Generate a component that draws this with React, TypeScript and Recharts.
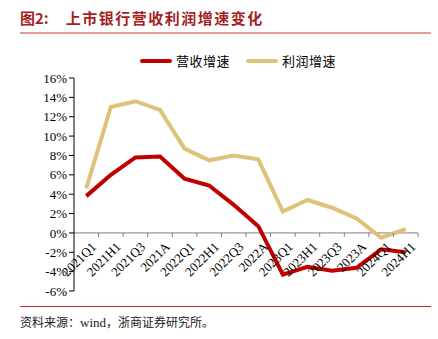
import { LineChart, Line, XAxis, YAxis, ReferenceLine } from "recharts"

const categories = [
  "2021Q1", "2021H1", "2021Q3", "2021A",
  "2022Q1", "2022H1", "2022Q3", "2022A",
  "2023Q1", "2023H1", "2023Q3", "2023A",
  "2024Q1", "2024H1",
]

// 营收增速 (%)
const revenueGrowth = [3.8, 6.0, 7.8, 7.9, 5.6, 4.9, 2.9, 0.7, -4.3, -3.5, -3.9, -3.6, -1.7, -2.0]
// 利润增速 (%)
const profitGrowth = [4.6, 13.0, 13.6, 12.7, 8.7, 7.5, 8.0, 7.6, 2.2, 3.4, 2.6, 1.5, -0.5, 0.4]

const yTicks = [-6, -4, -2, 0, 2, 4, 6, 8, 10, 12, 14, 16]

const seriesNames = ["营收增速", "利润增速"]
const seriesColors = ["#C00000", "#DFC27A"]

const W = 438
const H = 339
const PLOT_TOP = 78
const PLOT_BOTTOM = 291
const PLOT_LEFT = 74
const PLOT_RIGHT = 418
const Y_MIN = -6
const Y_MAX = 16
const ZERO_Y = PLOT_TOP + ((Y_MAX - 0) / (Y_MAX - Y_MIN)) * (PLOT_BOTTOM - PLOT_TOP)
const BAND = (PLOT_RIGHT - PLOT_LEFT) / categories.length

const chartData = categories.map((c, i) => ({
  name: c,
  revenue: revenueGrowth[i],
  profit: profitGrowth[i],
}))

const serif = "'Times New Roman', 'Liberation Serif', serif"
const cjk = "SimSun, 'Noto Sans CJK SC', sans-serif"

function XTick({ x, payload }: { x?: number; payload?: { value: string } }) {
  const cx = x ?? 0
  return (
    <g>
      <line x1={cx + BAND / 2} x2={cx + BAND / 2} y1={ZERO_Y} y2={ZERO_Y + 4} stroke="#808080" />
      <text
        transform={`translate(${cx + 5},${ZERO_Y + 9}) rotate(-45)`}
        textAnchor="end"
        dy={8}
        fontFamily={serif}
        fontSize={13}
        fill="#000"
      >
        {payload?.value}
      </text>
    </g>
  )
}

export default function App() {
  return (
    <div style={{ position: "absolute", left: 0, top: 0, width: W, height: H, background: "#fff", overflow: "hidden" }}>
      {/* title */}
      <div
        style={{
          position: "absolute",
          left: 20,
          top: 7,
          fontFamily: cjk,
          fontWeight: 700,
          fontSize: 15,
          color: "#A51F24",
          whiteSpace: "nowrap",
        }}
      >
        <span>图2:</span>
        <span style={{ marginLeft: 17, letterSpacing: 1.5 }}>上市银行营收利润增速变化</span>
      </div>
      <div style={{ position: "absolute", left: 20, top: 32, width: 411, height: 2, background: "#E59A9C" }} />

      {/* legend */}
      <div style={{ position: "absolute", left: 140, top: 52, display: "flex", alignItems: "center", fontFamily: cjk, fontSize: 13, color: "#000" }}>
        {seriesNames.map((n, i) => (
          <div key={n} style={{ display: "flex", alignItems: "center", marginRight: i === 0 ? 16 : 0 }}>
            <div style={{ width: 32, height: 4, background: seriesColors[i], borderRadius: 2 }} />
            <span style={{ marginLeft: 4, lineHeight: "18px", letterSpacing: 0.5 }}>{n}</span>
          </div>
        ))}
      </div>

      <div style={{ position: "absolute", left: 0, top: 0 }}>
        <LineChart
          width={W}
          height={H}
          data={chartData}
          margin={{ top: PLOT_TOP, right: W - PLOT_RIGHT, bottom: H - PLOT_BOTTOM - 1, left: 0 }}
        >
          <XAxis
            dataKey="name"
            scale="band"
            height={1}
            axisLine={false}
            tickLine={false}
            interval={0}
            tick={<XTick />}
          />
          <YAxis
            width={PLOT_LEFT}
            domain={[Y_MIN, Y_MAX]}
            ticks={yTicks}
            interval={0}
            tickFormatter={(v: number) => `${v}%`}
            axisLine={{ stroke: "#000" }}
            tickLine={{ stroke: "#000" }}
            tickSize={5}
            tick={{ fontFamily: serif, fontSize: 13, fill: "#000" }}
          />
          <ReferenceLine y={0} stroke="#808080" strokeWidth={1} />
          <Line
            type="linear"
            dataKey="revenue"
            name={seriesNames[0]}
            stroke={seriesColors[0]}
            strokeWidth={4}
            dot={false}
            isAnimationActive={false}
          />
          <Line
            type="linear"
            dataKey="profit"
            name={seriesNames[1]}
            stroke={seriesColors[1]}
            strokeWidth={4}
            dot={false}
            isAnimationActive={false}
          />
        </LineChart>
      </div>

      {/* footer */}
      <div style={{ position: "absolute", left: 20, top: 306, width: 411, height: 1, background: "#C0282E" }} />
      <div style={{ position: "absolute", left: 20, top: 313, fontFamily: cjk, fontSize: 12, color: "#222", whiteSpace: "nowrap" }}>
        资料来源：<span style={{ fontFamily: serif, fontSize: 13 }}>wind</span>，浙商证券研究所。
      </div>
    </div>
  )
}
